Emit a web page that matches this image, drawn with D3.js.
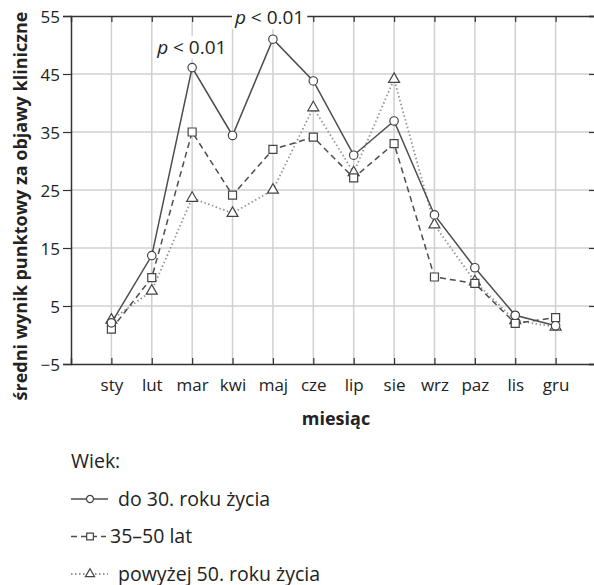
<!DOCTYPE html>
<html>
<head>
<meta charset="utf-8">
<script src="https://cdn.jsdelivr.net/npm/d3@7"></script>
<style>
  body { margin: 0; background: #fff; }
  text { font-family: "Open Sans", "Noto Sans", sans-serif; fill: #222; }
</style>
</head>
<body>
<svg id="chart"></svg>
<script>
// months on the x axis
const months = ['sty', 'lut', 'mar', 'kwi', 'maj', 'cze', 'lip', 'sie', 'wrz', 'paz', 'lis', 'gru'];
const yTicks = [-5, 5, 15, 25, 35, 45, 55];

// series values
const do30 = [2.1, 13.7, 46.1, 34.4, 51.0, 43.8, 31.0, 36.9, 20.7, 11.6, 3.4, 1.6];
const od35do50 = [1.0, 9.9, 35.0, 24.1, 32.0, 34.1, 27.1, 33.0, 10.0, 8.9, 2.0, 3.0];
const pow50 = [2.6, 7.6, 23.6, 21.0, 25.0, 39.2, 28.0, 44.1, 19.0, 9.2, 2.5, 1.4];

const seriesNames = ['do 30. roku życia', '35–50 lat', 'powyżej 50. roku życia'];
const annotations = [{ month: 'mar', value: 46.1, text: 'p < 0.01' }, { month: 'maj', value: 51.0, text: 'p < 0.01' }];

class MonthChart {
    constructor(_config) {
        this.config = {
            parentElement: _config.parentElement,
            containerWidth: _config.containerWidth || 594,
            containerHeight: _config.containerHeight || 585,
            margin: _config.margin || { top: 16, right: -2, bottom: 221, left: 71 }
        };
        this.initVis();
    }

    initVis() {
        let vis = this;
        const m = vis.config.margin;
        vis.width = vis.config.containerWidth - m.left - m.right;
        vis.height = vis.config.containerHeight - m.top - m.bottom;

        vis.svg = d3.select(vis.config.parentElement)
            .attr('width', vis.config.containerWidth)
            .attr('height', vis.config.containerHeight);

        vis.chart = vis.svg.append('g')
            .attr('transform', `translate(${m.left},${m.top})`);

        vis.xScale = d3.scalePoint().domain(months).range([0, vis.width]).padding(1);
        vis.yScale = d3.scaleLinear().domain([-5, 55]).range([vis.height, 0]);

        vis.styles = [
            { stroke: '#4d4d4d', width: 1.5, dash: null, symbol: d3.symbolCircle, size: 56 },
            { stroke: '#4d4d4d', width: 1.5, dash: '6,4', symbol: d3.symbolSquare, size: 64 },
            { stroke: '#959595', width: 1.8, dash: '1.5,2.5', symbol: d3.symbolTriangle, size: 52 }
        ];
    }

    renderVis() {
        let vis = this;

        // grid
        vis.chart.append('g').selectAll('line')
            .data(months).join('line')
            .attr('x1', d => vis.xScale(d)).attr('x2', d => vis.xScale(d))
            .attr('y1', 0).attr('y2', vis.height)
            .attr('stroke', '#d0d0d0').attr('stroke-width', 1.5);
        vis.chart.append('g').selectAll('line')
            .data(yTicks.slice(1, -1)).join('line')
            .attr('x1', 0).attr('x2', vis.width)
            .attr('y1', d => vis.yScale(d)).attr('y2', d => vis.yScale(d))
            .attr('stroke', '#d0d0d0').attr('stroke-width', 1.5);

        // axes
        const axisColor = '#333';
        const yAxis = d3.axisLeft(vis.yScale).tickValues(yTicks).tickSize(8).tickPadding(3)
            .tickFormat(d => d < 0 ? '\u2212' + Math.abs(d) : d);
        const yAxisG = vis.chart.append('g').call(yAxis);
        const xAxis = d3.axisBottom(vis.xScale).tickSize(-6).tickPadding(15);
        const xAxisG = vis.chart.append('g').attr('transform', `translate(0,${vis.height})`).call(xAxis);
        const xTop = vis.chart.append('g').call(d3.axisTop(vis.xScale).tickSize(-6).tickFormat(''));
        const yRight = vis.chart.append('g').attr('transform', `translate(${vis.width},0)`)
            .call(d3.axisRight(vis.yScale).tickValues(yTicks).tickSize(-7).tickFormat(''));

        [yAxisG, xAxisG, xTop, yRight].forEach(g => {
            g.select('.domain').attr('stroke', axisColor).attr('stroke-width', 1.5);
            g.selectAll('.tick line').attr('stroke', axisColor).attr('stroke-width', 1.2);
            g.selectAll('.tick text').attr('fill', '#222').style('font-size', '17px')
                .style('font-family', '"Open Sans", sans-serif');
        });
        yAxisG.selectAll('.tick text').attr('dy', '0.36em');

        // lines and markers
        const allSeries = [do30, od35do50, pow50];
        const line = d3.line().x((d, i) => vis.xScale(months[i])).y(d => vis.yScale(d));
        const order = [2, 1, 0];
        order.forEach(k => {
            const s = vis.styles[k];
            vis.chart.append('path')
                .datum(allSeries[k])
                .attr('d', line)
                .attr('fill', 'none')
                .attr('stroke', s.stroke)
                .attr('stroke-width', s.width)
                .attr('stroke-dasharray', s.dash);
        });
        order.forEach(k => {
            const s = vis.styles[k];
            vis.chart.append('g').selectAll('path')
                .data(allSeries[k]).join('path')
                .attr('d', d3.symbol().type(s.symbol).size(s.size))
                .attr('transform', (d, i) => `translate(${vis.xScale(months[i])},${vis.yScale(d)})`)
                .attr('fill', '#fff')
                .attr('stroke', '#444')
                .attr('stroke-width', 1.2);
        });

        // p-value notes with white boxes
        const offs = [{ dx: -35, dy: -14 }, { dx: -38, dy: -15 }];
        annotations.forEach((a, i) => {
            const g = vis.chart.append('g')
                .attr('transform', `translate(${vis.xScale(a.month) + offs[i].dx},${vis.yScale(a.value) + offs[i].dy})`);
            const t = g.append('text').style('font-size', '19px');
            t.append('tspan').attr('font-style', 'italic').text('p');
            t.append('tspan').text(a.text.slice(1));
            const bb = t.node().getBBox();
            g.insert('rect', 'text')
                .attr('x', bb.x - 2).attr('y', bb.y + 2)
                .attr('width', bb.width + 5).attr('height', bb.height - 3)
                .attr('fill', '#fff');
        });

        // axis titles
        vis.svg.append('text')
            .attr('transform', 'translate(27,206) rotate(-90)')
            .attr('text-anchor', 'middle')
            .style('font-size', '18px').style('font-weight', 'bold')
            .text('średni wynik punktowy za objawy kliniczne');
        vis.svg.append('text')
            .attr('x', 336)
            .attr('y', 425)
            .attr('text-anchor', 'middle')
            .style('font-size', '18px').style('font-weight', 'bold')
            .text('miesiąc');

        // legend
        const legend = vis.svg.append('g').attr('transform', 'translate(71,0)');
        legend.append('text').attr('x', 0).attr('y', 468).style('font-size', '19.5px').text('Wiek:');
        const textX = [47, 39, 47];
        const lineEnd = [37, 35, 37];
        seriesNames.forEach((name, k) => {
            const s = vis.styles[k];
            const y = 499 + k * 37.5;
            legend.append('line')
                .attr('x1', 0).attr('x2', lineEnd[k]).attr('y1', y).attr('y2', y)
                .attr('stroke', s.stroke).attr('stroke-width', s.width).attr('stroke-dasharray', s.dash);
            legend.append('path')
                .attr('d', d3.symbol().type(s.symbol).size(s.size * 0.7))
                .attr('transform', `translate(19,${y})`)
                .attr('fill', '#fff').attr('stroke', '#444').attr('stroke-width', 1.2);
            legend.append('text').attr('x', textX[k]).attr('y', y + 6.5).style('font-size', '19.5px').text(name);
        });
    }
}

const chart = new MonthChart({ parentElement: '#chart' });
chart.renderVis();
</script>
</body>
</html>
